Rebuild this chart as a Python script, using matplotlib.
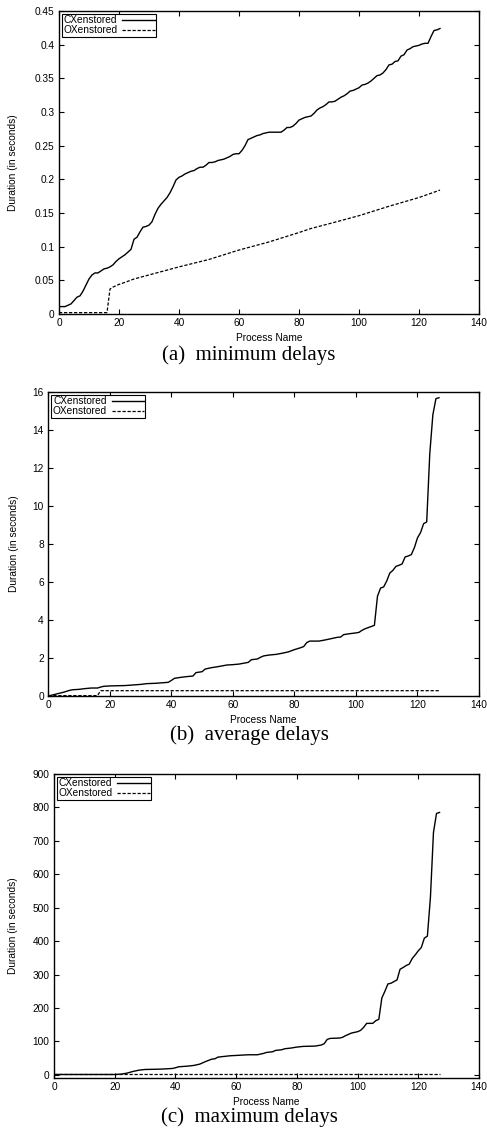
import matplotlib
matplotlib.use('Agg')
import matplotlib.pyplot as plt
from matplotlib.ticker import FuncFormatter

# process index, 0..127
proc = list(range(128))

# (a) minimum delays
min_cx = [0.011, 0.011, 0.011, 0.013, 0.015, 0.020, 0.025, 0.027, 0.034, 0.043,
          0.052, 0.058, 0.061, 0.061, 0.064, 0.067, 0.068, 0.070, 0.073, 0.078,
          0.082, 0.085, 0.088, 0.092, 0.096, 0.111, 0.114, 0.122, 0.129, 0.130,
          0.132, 0.137, 0.148, 0.157, 0.163, 0.168, 0.173, 0.180, 0.189, 0.199,
          0.203, 0.205, 0.208, 0.210, 0.212, 0.213, 0.216, 0.218, 0.218, 0.221,
          0.225, 0.225, 0.226, 0.228, 0.229, 0.230, 0.232, 0.234, 0.237, 0.238,
          0.238, 0.243, 0.250, 0.259, 0.261, 0.263, 0.265, 0.266, 0.268, 0.269,
          0.270, 0.270, 0.270, 0.270, 0.270, 0.273, 0.277, 0.277, 0.279, 0.283,
          0.288, 0.290, 0.292, 0.293, 0.294, 0.298, 0.303, 0.306, 0.308, 0.311,
          0.315, 0.315, 0.316, 0.319, 0.322, 0.324, 0.327, 0.331, 0.332, 0.334,
          0.336, 0.340, 0.341, 0.343, 0.346, 0.350, 0.354, 0.355, 0.358, 0.363,
          0.370, 0.371, 0.375, 0.376, 0.383, 0.385, 0.392, 0.394, 0.397, 0.398,
          0.399, 0.401, 0.402, 0.402, 0.412, 0.421, 0.422, 0.424]
min_ox_x = [0, 16, 17, 18, 20, 22, 25, 30, 40, 50, 60, 70, 80, 84, 90, 100, 110, 120, 127]
min_ox = [0.002, 0.002, 0.037, 0.040, 0.044, 0.047, 0.052, 0.058, 0.070, 0.081,
          0.095, 0.107, 0.121, 0.127, 0.134, 0.146, 0.160, 0.173, 0.184]

# (b) average delays
avg_cx_x = [0, 3, 5, 6, 7, 8, 10, 12, 14, 16, 17, 18, 20, 25, 30, 32, 35, 39, 40, 41,
            43, 45, 47, 48, 50, 51, 53, 55, 57, 58, 60, 62, 64, 65, 66, 68, 69, 70, 72, 74,
            76, 78, 80, 82, 83, 84, 85, 88, 90, 92, 94, 95, 96, 98, 100, 101, 102, 103, 104, 106,
            107, 108, 109, 110, 111, 112, 113, 114, 115, 116, 117, 118, 119, 120, 121, 122, 123, 124, 125, 126,
            127]
avg_cx = [0.0, 0.12, 0.2, 0.25, 0.3, 0.33, 0.35, 0.39, 0.42, 0.42, 0.47, 0.51, 0.53, 0.55, 0.61, 0.65, 0.67, 0.72, 0.82, 0.93,
          0.98, 1.02, 1.05, 1.23, 1.28, 1.42, 1.49, 1.54, 1.60, 1.63, 1.65, 1.68, 1.74, 1.77, 1.91, 1.95, 2.04, 2.11, 2.16, 2.19,
          2.25, 2.32, 2.44, 2.54, 2.60, 2.81, 2.89, 2.89, 2.95, 3.02, 3.09, 3.10, 3.23, 3.28, 3.32, 3.35, 3.46, 3.54, 3.60, 3.72,
          5.25, 5.68, 5.74, 6.05, 6.47, 6.61, 6.82, 6.88, 6.95, 7.32, 7.37, 7.44, 7.81, 8.32, 8.60, 9.07, 9.16, 12.75, 14.8, 15.65,
          15.70]
avg_ox_x = [0, 16, 17, 127]
avg_ox = [0.02, 0.02, 0.28, 0.28]

# (c) maximum delays
max_cx_x = [0, 20, 22, 24, 26, 28, 30, 35, 39, 40, 41, 44, 46, 48, 50, 52, 53, 54, 56, 58,
            60, 62, 64, 67, 69, 70, 72, 73, 75, 76, 78, 80, 82, 86, 88, 89, 90, 91, 94, 95,
            96, 98, 100, 101, 102, 103, 105, 106, 107, 108, 109, 110, 111, 112, 113, 114, 115, 116, 117, 118,
            119, 120, 121, 122, 123, 124, 125, 126, 127]
max_cx = [1, 1, 2, 5, 10, 14, 16, 17, 19, 21, 24, 26, 28, 32, 40, 47, 48, 53, 55, 57,
          58, 59, 60, 60, 64, 67, 69, 73, 75, 78, 80, 83, 85, 86, 89, 93, 106, 109, 110, 112,
          117, 125, 129, 133, 142, 154, 154, 162, 166, 230, 250, 272, 274, 279, 284, 316, 321, 327, 331, 348,
          359, 371, 381, 409, 415, 531, 725, 782, 785]
max_ox_x = [0, 127]
max_ox = [1, 1]

panels = [
    (proc, min_cx, min_ox_x, min_ox, (0, 0.45), [i * 0.05 for i in range(10)], '(a)  minimum delays'),
    (avg_cx_x, avg_cx, avg_ox_x, avg_ox, (0, 16), list(range(0, 17, 2)), '(b)  average delays'),
    (max_cx_x, max_cx, max_ox_x, max_ox, (-8, 900), list(range(0, 901, 100)), '(c)  maximum delays'),
]

W, H = 487, 1131
# axes boxes in pixels: left, top, right, bottom
boxes = [(59, 11, 479, 314), (48.3, 392, 479, 696), (54, 774, 479, 1077.5)]
ylab_x = [13, 14, 13]
xlab_y = [338, 720, 1102]
cap_y = [355, 735, 1117]

fs = 7.3
plt.rcParams['font.family'] = 'Liberation Sans'
plt.rcParams['font.size'] = fs

fig = plt.figure(figsize=(W / 100, H / 100), dpi=100)

for (cx_x, cx_y, ox_x, ox_y, ylim, yticks, caption), box, yx, xy, cy in zip(panels, boxes, ylab_x, xlab_y, cap_y):
    l, t, r, b = box
    ax = fig.add_axes([l / W, 1 - b / H, (r - l) / W, (b - t) / H])
    ax.plot(cx_x, cx_y, color='black', lw=1.0, label='CXenstored')
    ax.plot(ox_x, ox_y, color='black', lw=0.9, linestyle=(0, (2.6, 1.4)), label='OXenstored')
    ax.set_xlim(0, 140)
    ax.set_ylim(*ylim)
    ax.set_xticks(range(0, 141, 20))
    ax.set_yticks(yticks)
    ax.yaxis.set_major_formatter(FuncFormatter(lambda v, p: '%g' % round(v, 4)))
    ax.tick_params(direction='in', top=True, right=True, length=3.5, width=0.8,
                   labelsize=fs, pad=3.2, colors='black')
    for s in ax.spines.values():
        s.set_linewidth(1.0)
    leg = ax.legend(loc='upper left', markerfirst=False, fancybox=False, framealpha=1,
                    edgecolor='black', fontsize=fs, handlelength=3.2, handletextpad=0.5,
                    borderpad=0.12, labelspacing=0.02, borderaxespad=0.3)
    leg.get_frame().set_linewidth(0.8)
    fig.text(yx / W, 1 - ((t + b) / 2) / H, 'Duration (in seconds)', rotation=90,
             ha='center', va='center', fontsize=fs)
    fig.text(((l + r) / 2) / W, 1 - xy / H, 'Process Name', ha='center', va='center', fontsize=fs)
    fig.text(249 / W, 1 - cy / H, caption, ha='center', va='center', fontsize=15,
             family='Liberation Serif')

fig.savefig('out.png', dpi=100)
